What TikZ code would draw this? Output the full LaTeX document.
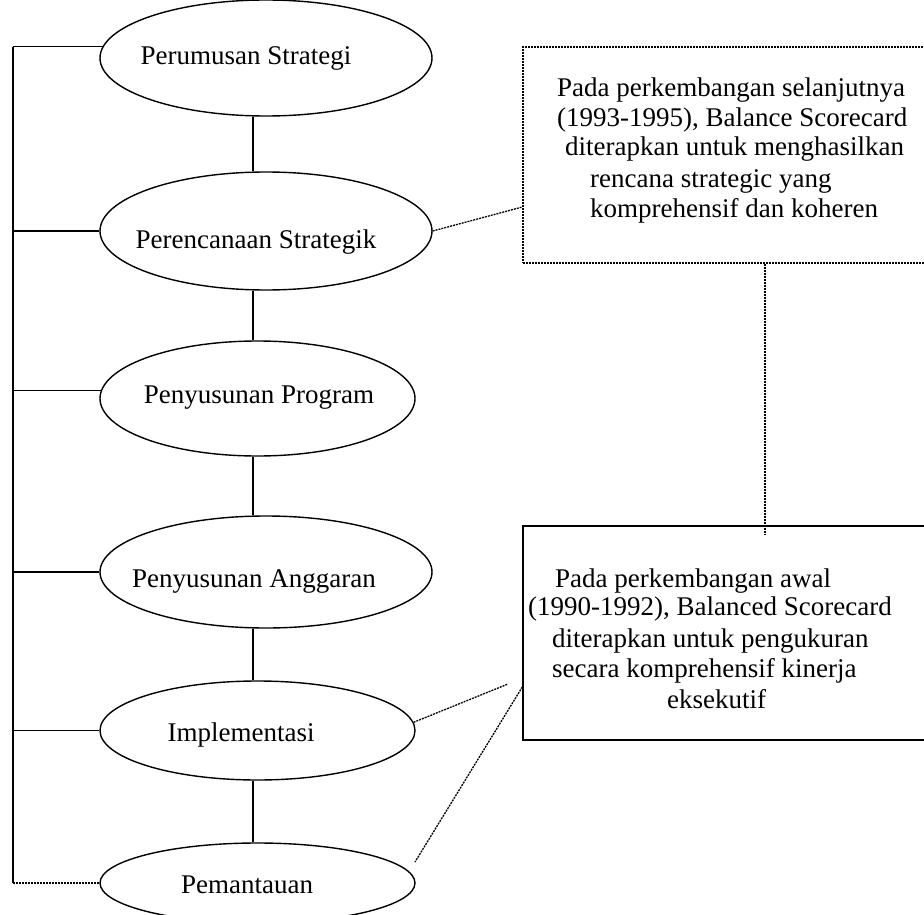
\documentclass[tikz,border=0pt]{standalone}
\usepackage{fontspec}
\setmainfont{Liberation Serif}
\usetikzlibrary{shapes.geometric}
\tikzset{
  ell/.style={draw, ellipse, line width=1.4pt, inner sep=0pt},
  ebox/.style={draw, rectangle, line width=1.4pt, inner sep=0pt},
  dotln/.style={line width=1.3pt, dash pattern=on 2pt off 1pt},
  solid1/.style={line width=1.4pt},
  txt/.style={inner sep=0pt, font=\fontsize{27}{30}\selectfont},
}
\begin{document}
\begin{tikzpicture}[x=1pt, y=-1pt]
\useasboundingbox (0,0) rectangle (924,915);
\clip (0,0) rectangle (924,915);

% ellipses
\node[ell, minimum width=332pt, minimum height=116pt] (e1) at (266,58) {};
\node[ell, minimum width=332pt, minimum height=118pt] (e2) at (266,231) {};
\node[ell, minimum width=315pt, minimum height=115pt] (e3) at (257.5,398.5) {};
\node[ell, minimum width=332pt, minimum height=112pt] (e4) at (266,572) {};
\node[ell, minimum width=315pt, minimum height=99pt] (e5) at (257.5,730.5) {};
\node[ell, minimum width=315pt, minimum height=80pt] (e6) at (257.5,883) {};

% ellipse texts
\node[txt, anchor=base] (t1) at (246,65) {Perumusan Strategi};
\node[txt, anchor=base] (t2) at (256,248) {Perencanaan Strategik};
\node[txt, anchor=base] (t3) at (259,403) {Penyusunan Program};
\node[txt, anchor=base] (t4) at (254,587) {Penyusunan Anggaran};
\node[txt, anchor=base] (t5) at (241,741) {Implementasi};
\node[txt, anchor=base] (t6) at (247,893) {Pemantauan};

% spine coordinates
\coordinate (sp) at (253,0);
\coordinate (bx) at (13,0);

% vertical chain
\draw[solid1] (e1.south -| sp) -- (e2.north -| sp);
\draw[solid1] (e2.south -| sp) -- (e3.north -| sp);
\draw[solid1] (e3.south -| sp) -- (e4.north -| sp);
\draw[solid1] (e4.south -| sp) -- (e5.north -| sp);
\draw[solid1] (e5.south -| sp) -- (e6.north -| sp);

% left bracket
\draw[solid1] (e1.176.5 -| bx) -- (e6.west -| bx);
\draw[solid1] (e1.176.5 -| bx) -- (e1.176.5);
\draw[solid1] (e2.west -| bx) -- (e2.west);
\draw[solid1] (e3.177 -| bx) -- (e3.177);
\draw[solid1] (e4.west -| bx) -- (e4.west);
\draw[solid1] (e5.west -| bx) -- (e5.west);
\draw[dotln] (e6.west -| bx) -- (e6.west);

% boxes
\node[ebox, dotln, minimum width=437pt, minimum height=216pt] (b1) at (741.5,155) {};
\node[ebox, minimum width=437pt, minimum height=214pt] (b2) at (741.5,633) {};

% box 1 text
\node[txt, anchor=base west] (p1) at (557,97) {Pada perkembangan selanjutnya};
\node[txt, anchor=base west] (p2) at (557,127) {(1993-1995), Balance Scorecard};
\node[txt, anchor=base west] (p3) at (565,156) {diterapkan untuk menghasilkan};
\node[txt, anchor=base west] (p4) at (590,187) {rencana strategic yang};
\node[txt, anchor=base west] (p5) at (590,218) {komprehensif dan koheren};

% box 2 text
\node[txt, anchor=base west] (q1) at (555,587) {Pada perkembangan awal};
\node[txt, anchor=base west] (q2) at (528,615) {(1990-1992), Balanced Scorecard};
\node[txt, anchor=base west] (q3) at (552,647) {diterapkan untuk pengukuran};
\node[txt, anchor=base west] (q4) at (552,677) {secara komprehensif kinerja};
\node[txt, anchor=base west] (q5) at (667,708) {eksekutif};

% dotted connectors
\coordinate (c4) at (765,535);
\draw[dotln] (b1.south -| c4) -- (c4);
\draw[dotln] (e2.east) -- ([yshift=-52pt]b1.west);
\coordinate (c1) at (508,684);
\draw[dotln] (e5.3) -- (c1);
\coordinate (c2) at (415,862);
\draw[dotln] ([yshift=-54pt]b2.west) -- (c2);
\end{tikzpicture}
\end{document}
